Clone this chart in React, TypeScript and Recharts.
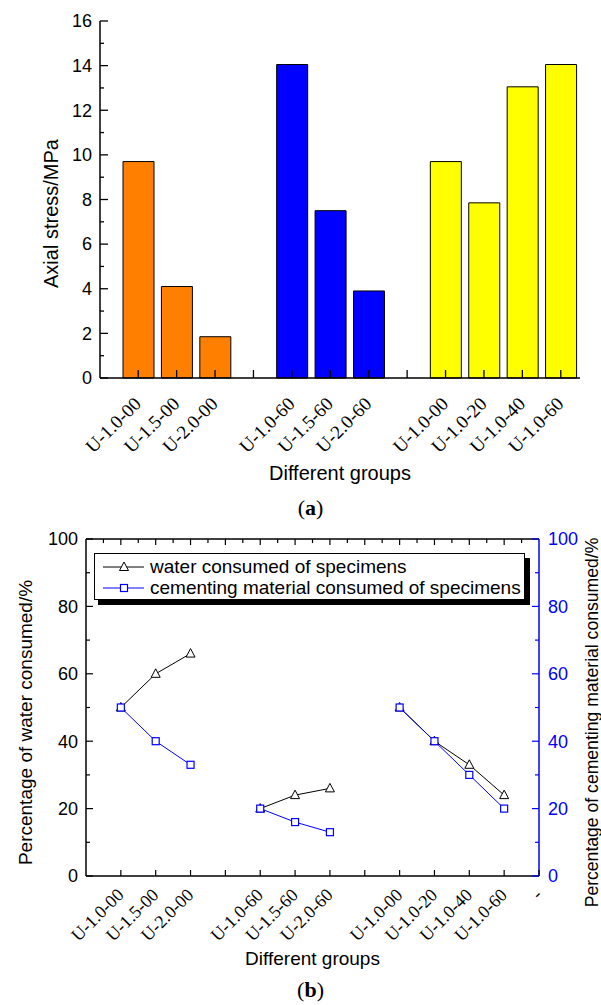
import React from 'react';
import {
  BarChart,
  Bar,
  Cell,
  XAxis,
  YAxis,
  Label,
  LineChart,
  Line,
  ReferenceLine,
} from 'recharts';

const SANS = '"Liberation Sans", Arial, sans-serif';
const SERIF = '"Liberation Serif", "Times New Roman", serif';

// (a) axial stress, blank slots split the three groups
const groupsA = [
  'U-1.0-00', 'U-1.5-00', 'U-2.0-00', '',
  'U-1.0-60', 'U-1.5-60', 'U-2.0-60', '',
  'U-1.0-00', 'U-1.0-20', 'U-1.0-40', 'U-1.0-60',
];
const axialStress = [9.7, 4.1, 1.85, null, 14.05, 7.5, 3.9, null, 9.7, 7.85, 13.05, 14.05];
const barColors = [
  '#ff8000', '#ff8000', '#ff8000', '#fff',
  '#0000ff', '#0000ff', '#0000ff', '#fff',
  '#ffff00', '#ffff00', '#ffff00', '#ffff00',
];

// (b) consumption percentages, positions 1..12 (13 is the stray "-" tick)
const groupsB = [...groupsA, '-'];
const waterConsumed = [50, 60, 66, null, 20, 24, 26, null, 50, 40, 33, 24];
const cementConsumed = [50, 40, 33, null, 20, 16, 13, null, 50, 40, 30, 20];

const dataA = groupsA.map((name, i) => ({ slot: i, name, stress: axialStress[i] }));
const dataB = waterConsumed.map((w, i) => ({ pos: i + 1, water: w, cement: cementConsumed[i] }));

const stressTicks = Array.from({ length: 17 }, (_, i) => i);
const pctTicks = Array.from({ length: 11 }, (_, i) => i * 10);
const posTicks = groupsB.map((_, i) => i + 1);
const topTicks = Array.from({ length: 25 }, (_, i) => (i + 1) * 0.5);

const BLUE = '#0000ff';
// 1 unit of the % axis is about 3.37px, so these are ~6px and ~4px marks
const TOP_MAJOR = 1.8;
const TOP_MINOR = 1.2;

const StressTick = ({ x, y, payload }: any) => {
  const major = payload.value % 2 === 0;
  return (
    <g>
      <line x1={x} y1={y} x2={x + (major ? 8 : 4)} y2={y} stroke="#000" strokeWidth={1.3} />
      {major && (
        <text x={x - 8} y={y} dy="0.35em" textAnchor="end" fontFamily={SANS} fontSize={18} fill="#000">
          {payload.value}
        </text>
      )}
    </g>
  );
};

const GroupTickA = ({ x, y, payload }: any) => {
  const tx = x + 4;
  const ty = y + 27;
  return (
    <g>
      <line x1={x} y1={y} x2={x} y2={y - 8} stroke="#000" strokeWidth={1.3} />
      <text x={tx} y={ty} transform={`rotate(-45 ${tx} ${ty})`} textAnchor="end" fontFamily={SERIF} fontSize={19} fill="#000">
        {groupsA[payload.value]}
      </text>
    </g>
  );
};

const GroupTickB = ({ x, y, payload }: any) => {
  const tx = x + 4;
  const ty = y + 20;
  return (
    <g>
      <line x1={x} y1={y} x2={x} y2={y - 6} stroke="#000" strokeWidth={1.2} />
      <text x={tx} y={ty} transform={`rotate(-45 ${tx} ${ty})`} textAnchor="end" fontFamily={SERIF} fontSize={18} fill="#000">
        {groupsB[payload.value - 1]}
      </text>
    </g>
  );
};

const PctTickLeft = ({ x, y, payload }: any) => {
  const major = payload.value % 20 === 0;
  return (
    <g>
      <line x1={x} y1={y} x2={x + (major ? 7 : 4)} y2={y} stroke="#000" strokeWidth={1.2} />
      {major && (
        <text x={x - 8} y={y} dy="0.35em" textAnchor="end" fontFamily={SANS} fontSize={18} fill="#000">
          {payload.value}
        </text>
      )}
    </g>
  );
};

const PctTickRight = ({ x, y, payload }: any) => {
  const major = payload.value % 20 === 0;
  return (
    <g>
      <line x1={x} y1={y} x2={x - (major ? 7 : 4)} y2={y} stroke={BLUE} strokeWidth={1.2} />
      {major && (
        <text x={x + 9} y={y} dy="0.35em" textAnchor="start" fontFamily={SANS} fontSize={18} fill={BLUE}>
          {payload.value}
        </text>
      )}
    </g>
  );
};

const Triangle = ({ cx, cy }: any) => {
  if (cx == null || cy == null) return null;
  return (
    <polygon
      points={`${cx},${cy - 5} ${cx - 4.5},${cy + 3.5} ${cx + 4.5},${cy + 3.5}`}
      fill="#fff"
      stroke="#000"
      strokeWidth={1}
    />
  );
};

const Square = ({ cx, cy }: any) => {
  if (cx == null || cy == null) return null;
  return <rect x={cx - 3.5} y={cy - 3.5} width={7} height={7} fill="#fff" stroke={BLUE} strokeWidth={1.2} />;
};

const rotatedTitle = (text: string, dx: number, shift: number, size: number) => ({ viewBox }: any) => {
  const cx = viewBox.x + dx;
  const cy = viewBox.y + viewBox.height / 2 + shift;
  return (
    <text x={cx} y={cy} dy="0.35em" transform={`rotate(-90 ${cx} ${cy})`} textAnchor="middle" fontFamily={SANS} fontSize={size} fill="#000">
      {text}
    </text>
  );
};

const bottomTitle = (text: string, dy: number, size: number) => ({ viewBox }: any) => (
  <text x={viewBox.x + viewBox.width / 2} y={viewBox.y + dy} dy="0.35em" textAnchor="middle" fontFamily={SANS} fontSize={size} fill="#000">
    {text}
  </text>
);

const legendItems = [
  { label: 'water consumed of specimens', color: '#000', marker: 'triangle' },
  { label: 'cementing material consumed of specimens', color: BLUE, marker: 'square' },
];

const LegendBox = () => (
  <div style={{ position: 'absolute', left: 94, top: 553, width: 436, height: 52 }}>
    {/* solid drop shadow of the Origin legend frame */}
    <div style={{ position: 'absolute', left: 4, top: 5, width: 432, height: 47, background: '#000' }} />
    <div
      style={{
        position: 'absolute',
        left: 0,
        top: 0,
        width: 431,
        height: 47,
        boxSizing: 'border-box',
        border: '1px solid #000',
        background: '#fff',
        fontFamily: SANS,
        fontSize: 19,
        color: '#000',
        padding: '2px 0 0 7px',
      }}
    >
      {legendItems.map((item) => (
        <div key={item.label} style={{ display: 'flex', alignItems: 'center', height: 21, lineHeight: '21px' }}>
          <svg width={48} height={14} style={{ flex: 'none' }}>
            <line x1={1} y1={7} x2={42} y2={7} stroke={item.color} strokeWidth={1} />
            {item.marker === 'triangle' ? <Triangle cx={22} cy={7} /> : <Square cx={22} cy={7} />}
          </svg>
          <span>{item.label}</span>
        </div>
      ))}
    </div>
  </div>
);

const captionStyle: React.CSSProperties = {
  position: 'absolute',
  width: 601,
  left: 10,
  textAlign: 'center',
  fontFamily: SERIF,
  fontSize: 22,
  color: '#000',
  lineHeight: '24px',
};

export default function App() {
  return (
    <div style={{ position: 'absolute', left: 0, top: 0, width: 601, height: 1005, background: '#fff' }}>
      <div style={{ position: 'absolute', left: 0, top: 0 }}>
        <BarChart width={601} height={520} data={dataA} margin={{ top: 21, right: 21, bottom: 0, left: 0 }}>
          <XAxis
            dataKey="slot"
            type="category"
            height={142}
            padding={{ left: 19, right: 0 }}
            axisLine={{ stroke: '#000', strokeWidth: 1.5 }}
            tickLine={false}
            tickSize={0}
            tickMargin={0}
            interval={0}
            tick={<GroupTickA />}
          >
            <Label content={bottomTitle('Different groups', 95, 20)} />
          </XAxis>
          <YAxis
            type="number"
            domain={[0, 16]}
            ticks={stressTicks}
            width={100}
            axisLine={{ stroke: '#000', strokeWidth: 1.5 }}
            tickLine={false}
            tickSize={0}
            tickMargin={0}
            interval={0}
            tick={<StressTick />}
          >
            <Label content={rotatedTitle('Axial stress/MPa', 51, 14, 20)} />
          </YAxis>
          <Bar dataKey="stress" barSize={31} stroke="#000" strokeWidth={1} isAnimationActive={false}>
            {dataA.map((d, i) => (
              <Cell key={`bar-${i}`} fill={barColors[i]} />
            ))}
          </Bar>
        </BarChart>
      </div>
      <div style={{ ...captionStyle, top: 496 }}>
        (<b>a</b>)
      </div>

      <div style={{ position: 'absolute', left: 0, top: 520 }}>
        <LineChart width={601} height={485} data={dataB} margin={{ top: 19, right: 0, bottom: 0, left: 0 }}>
          <XAxis
            dataKey="pos"
            type="number"
            domain={[0, 13]}
            ticks={posTicks}
            height={129}
            axisLine={{ stroke: '#000', strokeWidth: 1.5 }}
            tickLine={false}
            tickSize={0}
            tickMargin={0}
            interval={0}
            tick={<GroupTickB />}
          >
            <Label content={bottomTitle('Different groups', 82, 19)} />
          </XAxis>
          <YAxis
            yAxisId="left"
            type="number"
            domain={[0, 100]}
            ticks={pctTicks}
            width={86}
            axisLine={{ stroke: '#000', strokeWidth: 1.5 }}
            tickLine={false}
            tickSize={0}
            tickMargin={0}
            interval={0}
            tick={<PctTickLeft />}
          >
            <Label content={rotatedTitle('Percentage of water consumed/%', 25, 15, 19)} />
          </YAxis>
          <YAxis
            yAxisId="right"
            orientation="right"
            type="number"
            domain={[0, 100]}
            ticks={pctTicks}
            width={62}
            axisLine={{ stroke: BLUE, strokeWidth: 1.5 }}
            tickLine={false}
            tickSize={0}
            tickMargin={0}
            interval={0}
            tick={<PctTickRight />}
          >
            <Label content={rotatedTitle('Percentage of cementing material consumed/%', 53, 15, 17.6)} />
          </YAxis>
          {/* top frame line with its inward ticks */}
          <ReferenceLine yAxisId="left" y={100} stroke="#000" strokeWidth={1.5} ifOverflow="visible" />
          {topTicks.map((t) => (
            <ReferenceLine
              key={`top-${t}`}
              yAxisId="left"
              segment={[
                { x: t, y: 100 },
                { x: t, y: 100 - (Number.isInteger(t) ? TOP_MAJOR : TOP_MINOR) },
              ]}
              stroke="#000"
              strokeWidth={1.2}
              ifOverflow="visible"
            />
          ))}
          <Line
            yAxisId="left"
            dataKey="water"
            type="linear"
            stroke="#000"
            strokeWidth={1}
            dot={(p: any) => <Triangle key={`t-${p.index}`} cx={p.cx} cy={p.cy} />}
            activeDot={false}
            isAnimationActive={false}
          />
          <Line
            yAxisId="right"
            dataKey="cement"
            type="linear"
            stroke={BLUE}
            strokeWidth={1}
            dot={(p: any) => <Square key={`s-${p.index}`} cx={p.cx} cy={p.cy} />}
            activeDot={false}
            isAnimationActive={false}
          />
        </LineChart>
      </div>
      <LegendBox />
      <div style={{ ...captionStyle, top: 978 }}>
        (<b>b</b>)
      </div>
    </div>
  );
}
